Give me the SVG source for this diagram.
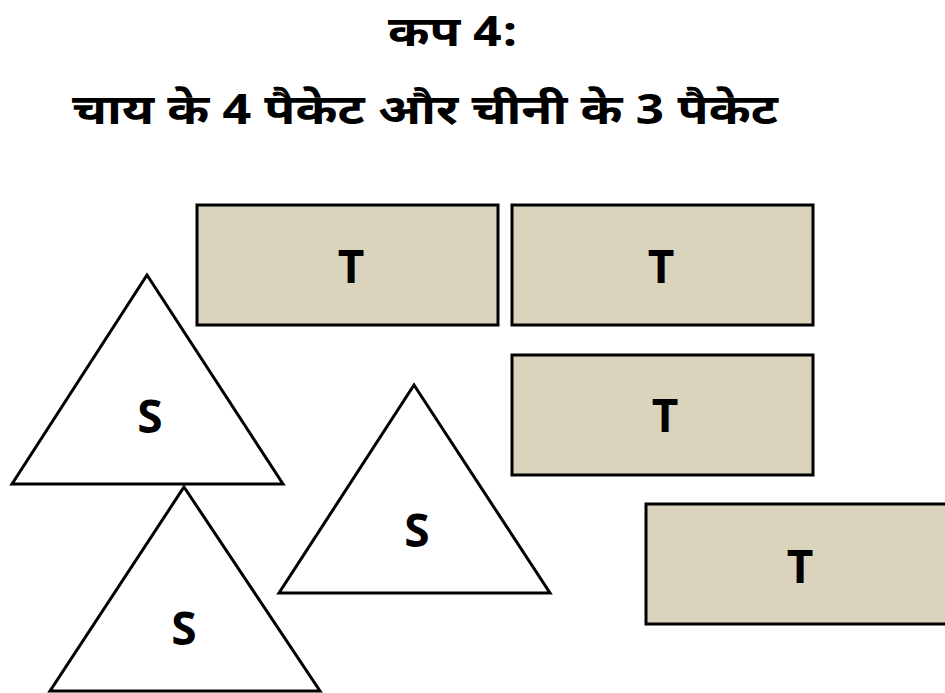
<svg xmlns="http://www.w3.org/2000/svg" width="945" height="693" viewBox="0 0 945 693">
<style>
.title{font-family:"Noto Sans Devanagari","Noto Sans","Liberation Sans",sans-serif;font-weight:bold;fill:#000}
.box{fill:#DBD4BD;stroke:#000;stroke-width:3}
.tri{fill:#fff;stroke:#000;stroke-width:3;stroke-linejoin:miter}
.lbl{font-family:"Open Sans","Liberation Sans",sans-serif;font-weight:bold;font-size:46px;fill:#000;text-anchor:middle}
</style>
<rect width="945" height="693" fill="#fff"/>
<g id="title">
<text class="title" x="388" y="46" font-size="41" textLength="130" lengthAdjust="spacingAndGlyphs">कप 4:</text>
<text class="title" x="72" y="124" font-size="41" textLength="706" lengthAdjust="spacingAndGlyphs">चाय के 4 पैकेट और चीनी के 3 पैकेट</text>
</g>
<g id="connectors"></g>
<g id="tea1"><rect class="box" x="197" y="205" width="301" height="120"/><text class="lbl" x="351" y="283">T</text></g>
<g id="tea2"><rect class="box" x="512" y="205" width="301" height="120"/><text class="lbl" x="661" y="283">T</text></g>
<g id="tea3"><rect class="box" x="512" y="355" width="301" height="120"/><text class="lbl" x="665" y="432">T</text></g>
<g id="tea4"><rect class="box" x="646" y="504" width="310" height="120"/><text class="lbl" x="800" y="583">T</text></g>
<g id="sugar1"><polygon class="tri" points="147,275 283,484 12,484"/><text class="lbl" x="150" y="433">S</text></g>
<g id="sugar2"><polygon class="tri" points="184,487 320,691 50,691"/><text class="lbl" x="184" y="645">S</text></g>
<g id="sugar3"><polygon class="tri" points="414,385 550,593 279,593"/><text class="lbl" x="417" y="547">S</text></g>
</svg>
